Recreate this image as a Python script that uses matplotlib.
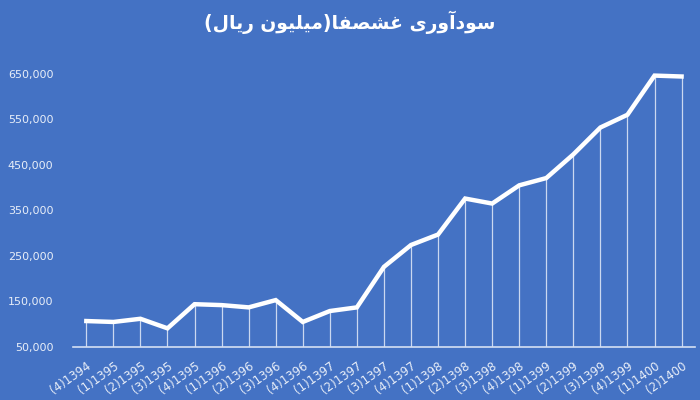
import matplotlib.pyplot as plt
from matplotlib.ticker import FuncFormatter

# fasl(quarter) labels and profit values (million rials)
labels = ["(4)1394", "(1)1395", "(2)1395", "(3)1395", "(4)1395",
          "(1)1396", "(2)1396", "(3)1396", "(4)1396",
          "(1)1397", "(2)1397", "(3)1397", "(4)1397",
          "(1)1398", "(2)1398", "(3)1398", "(4)1398",
          "(1)1399", "(2)1399", "(3)1399", "(4)1399",
          "(1)1400", "(2)1400"]
profit = [107000, 105000, 112000, 91000, 144000, 142000, 137000, 153000,
          105000, 129000, 137000, 226000, 274000, 297000, 376000, 365000,
          405000, 421000, 473000, 532000, 560000, 646000, 644000]
yticks = list(range(50000, 650001, 100000))

# title "سودآوری غشصفا(میلیون ریال)" in shaped presentation forms, visual order
title = ("(\uFEDD\uFE8E\uFBFE\uFEAD \uFEE5\uFEEE\uFBFF\uFEE0\uFBFF\uFEE3)"
         "\uFE8E\uFED4\uFEBC\uFEB8\uFECF \uFBFC\uFEAD\uFEED\uFE81\uFEA9\uFEEE\uFEB3")

bg = "#4472C4"
txt = "#E8EEF8"

fig = plt.figure(figsize=(7, 4), dpi=100, facecolor=bg)
ax = fig.add_axes([0.104, 0.1325, 0.889, 0.74])
ax.set_facecolor(bg)

x = list(range(len(labels)))
ax.vlines(x, 50000, profit, color="#CBD8F0", lw=0.9)
ax.plot(x, profit, color="white", lw=3.2, solid_joinstyle="miter")

ax.set_xlim(-0.5, len(labels) - 0.5)
ax.set_ylim(50000, 700000)
ax.set_yticks(yticks)
ax.yaxis.set_major_formatter(FuncFormatter(lambda v, p: f"{int(v):,}"))

ax.set_xticks(x)
ax.set_xticklabels(labels, rotation=35, ha="right", va="top",
                   rotation_mode="anchor", fontsize=8.5)
ax.tick_params(axis="both", length=0, colors=txt)
ax.tick_params(axis="y", pad=14, labelsize=8)
ax.tick_params(axis="x", pad=9)

for s in ["top", "right", "left"]:
    ax.spines[s].set_visible(False)
ax.spines["bottom"].set_color("#D5E0F3")
ax.spines["bottom"].set_linewidth(1.2)

fig.text(0.5, 0.945, title, ha="center", va="center", color="white",
         fontsize=13.5, fontweight="bold", family=["DejaVu Sans"])

fig.savefig("out.png", dpi=100, facecolor=bg)
